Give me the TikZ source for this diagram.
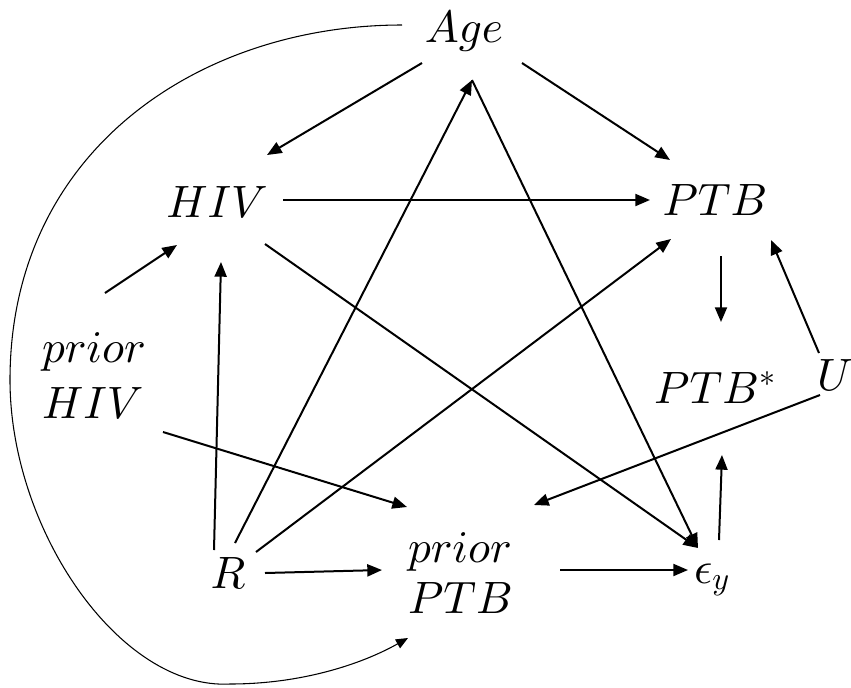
\documentclass[tikz,border=0pt]{standalone}
\usetikzlibrary{arrows.meta,calc}
\DeclareFontFamily{OML}{cmm}{\skewchar\font127 }
\DeclareFontShape{OML}{cmm}{m}{it}{<->cmmi10}{}
\DeclareFontFamily{OMS}{cmsy}{\skewchar\font48 }
\DeclareFontShape{OMS}{cmsy}{m}{n}{<->cmsy10}{}
\DeclareMathSizes{34}{34}{24}{17}
\tikzset{
  lab/.style={inner sep=0pt, outer sep=0pt, font=\fontsize{34}{42}\selectfont},
  arr/.style={line width=1.5pt, -{Triangle[length=11pt,width=9pt]}},
  curvearr/.style={line width=0.8pt, -{Triangle[length=9pt,width=7.5pt]}}
}
\begin{document}
\begin{tikzpicture}[x=0.75pt,y=-0.75pt]
\useasboundingbox (0,0) rectangle (851,687);
% nodes (positioned by their text baselines)
\node[lab,anchor=base] (Age) at (464,42) {$Age$};
\node[lab,anchor=base] (HIV) at (217,217) {$HIV$};
\node[lab,anchor=base] (PTB) at (715,215) {$PTB$};
\node[lab,anchor=base] (PTBs) at (715,403) {$PTB^{*}$};
\node[lab,anchor=base] (U) at (835,390) {$U$};
\node[lab,anchor=base] (R) at (228,588) {$R$};
\node[lab,anchor=base] (eps) at (712,583) {$\epsilon_{y}$};
\node[lab,anchor=base west] (pHIV) at (42,418)
  {\begin{tabular}[b]{@{}l@{}}$prior$\\$HIV$\end{tabular}};
\node[lab,font=\fontsize{34}{38.25}\selectfont,anchor=base west] (pPTB) at (408,613)
  {\begin{tabular}[b]{@{}l@{}}$prior$\\$PTB$\end{tabular}};
% connectors
\draw[arr] ($(Age.base)+(-42,21)$) -- ($(HIV.base)+(50,-62)$);
\draw[arr] ($(Age.base)+(58,21)$) -- ($(PTB.base)+(-45,-55)$);
\draw[arr] ($(HIV.base)+(66,-17)$) -- ($(PTB.base)+(-65,-15)$);
\draw[arr] ($(HIV.base)+(48,27)$) -- ($(eps.base)+(-14,-35)$);
\draw[arr] ($(Age.base)+(8,38)$) -- ($(eps.base)+(-14,-35)$);
\draw[arr] ($(R.base)+(7,-45)$) -- ($(Age.base)+(8,38)$);
\draw[arr] ($(R.base)+(28,-36)$) -- ($(PTB.base)+(-44,24)$);
\draw[arr] ($(R.base)+(-14,-38)$) -- ($(HIV.base)+(4,45)$);
\draw[arr] ($(R.base)+(37,-15)$) -- ($(pPTB.base west)+(-26,-43)$);
\draw[arr] ($(pHIV.base west)+(63,-125)$) -- ($(HIV.base)+(-40,28)$);
\draw[arr] ($(pHIV.base west)+(121,14)$) -- ($(pPTB.base west)+(-1,-106)$);
\draw[arr] ($(U.base)+(-15,5)$) -- ($(pPTB.base west)+(126,-108)$);
\draw[arr] ($(U.base)+(-16,-37)$) -- ($(PTB.base)+(56,25)$);
\draw[arr] ($(PTB.base)+(6,41)$) -- ($(PTBs.base)+(6,-81)$);
\draw[arr] ($(eps.base)+(7,-43)$) -- ($(PTBs.base)+(7,52)$);
\draw[arr] ($(pPTB.base west)+(152,-43)$) -- ($(eps.base)+(-24,-13)$);
% curved connector Age -> prior PTB
\coordinate (cs) at ($(Age.base)+(-62,-17)$);
\coordinate (ce) at ($(pPTB.base west)+(0,25)$);
\draw[curvearr] (cs) .. controls (200,25) and (10,150) .. (10,380)
  .. controls (10,530) and (120,690) .. (230,684)
  .. controls (300,684) and (360,665) .. (ce);
\end{tikzpicture}
\end{document}
